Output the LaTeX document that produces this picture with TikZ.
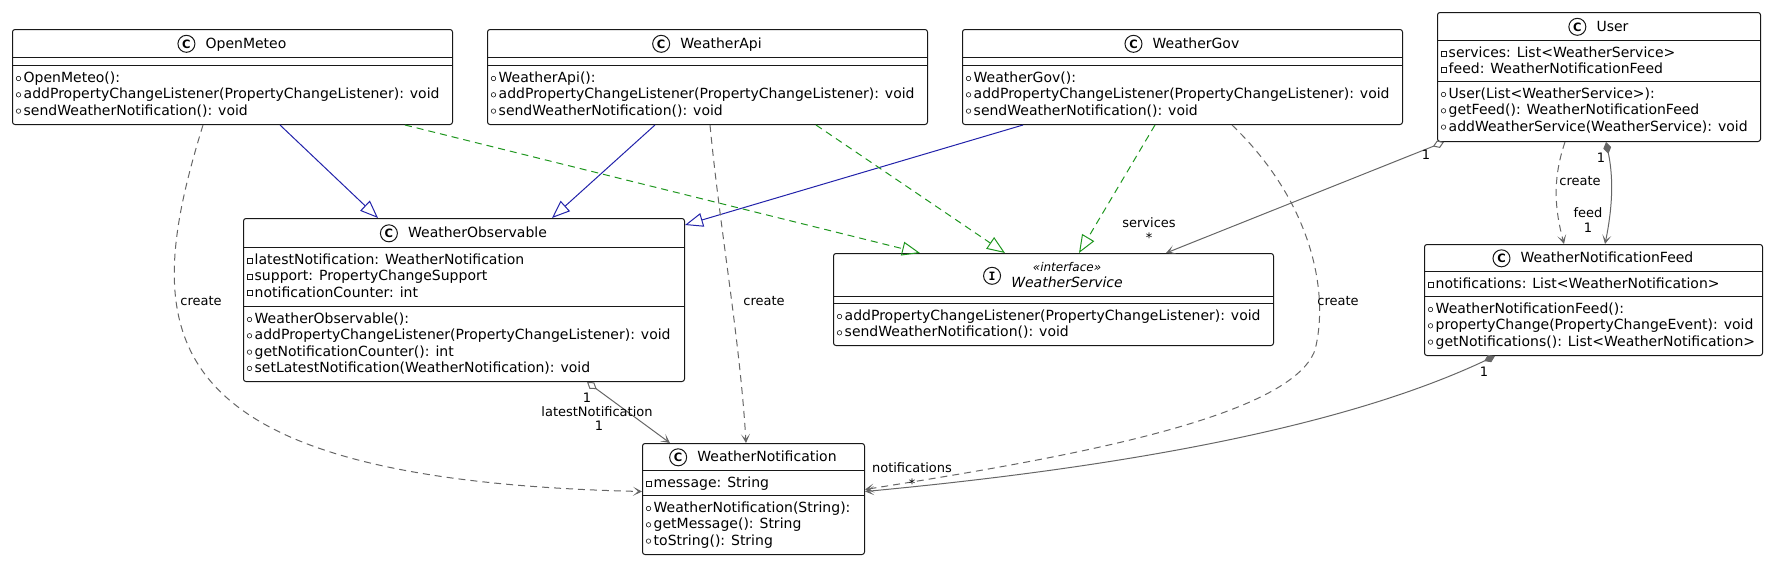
\documentclass[tikz,border=0pt]{standalone}
\usepackage{fontspec}
\setmainfont{DejaVu Sans}
\setmonofont{DejaVu Sans Mono}
\usetikzlibrary{arrows.meta,positioning}
\definecolor{umlblue}{RGB}{34,34,170}
\definecolor{umlgreen}{RGB}{30,150,30}
\definecolor{umlgray}{RGB}{102,102,102}
\definecolor{umlline}{RGB}{24,24,24}
\newcommand{\umlmemf}{\fontsize{14pt}{16pt}\selectfont}
\newcommand{\umllblf}{\fontsize{13pt}{15pt}\selectfont}
\newcommand{\umlstf}{\fontsize{12pt}{14pt}\selectfont\itshape}
\newcommand{\mrow}[5]{%
  \node[#1] (#2k) at (#3+6.5,#4-4) {};
  \node[mem] (#2) at (#3+11.5,#4) {#5};
}
\newcommand{\hdr}[5]{%
  \node[cname] (#1) at (#2,#3) {#4};
  \node[cicon, anchor=base east] (#1i) at ([xshift=-10pt]#1.base west) {#5};
}
\tikzset{
  cls/.style={draw=umlline, line width=1pt, rounded corners=2.5pt, fill=white, anchor=north west, inner sep=0pt},
  sepl/.style={draw=umlline, line width=1pt},
  mem/.style={font=\umlmemf, anchor=base west, inner sep=0pt},
  cname/.style={font=\umlmemf, anchor=base, inner sep=0pt},
  cicon/.style={circle, draw=umlline, line width=1pt, minimum size=17pt, inner sep=0pt, font=\fontsize{11.5pt}{12pt}\selectfont\bfseries},
  pubm/.style={circle, draw=umlline, line width=0.6pt, minimum size=4.5pt, inner sep=0pt},
  privm/.style={rectangle, draw=umlline, line width=0.6pt, minimum size=5pt, inner sep=0pt},
  lbl/.style={font=\umllblf, anchor=base, inner sep=0pt},
  vtip/.tip={Stealth[length=9pt,width=9pt,inset=5pt]},
  ext/.style={draw=umlblue, line width=1pt, -{Triangle[open,length=18pt,width=14pt]}},
  real/.style={draw=umlgreen, line width=1pt, dash pattern=on 7pt off 5pt, -{Triangle[open,length=18pt,width=14pt]}},
  dep/.style={draw=umlgray, line width=1pt, dash pattern=on 7pt off 5pt, -vtip},
  agg/.style={draw=umlgray, line width=1pt, {Diamond[open,length=12pt,width=8pt]}-vtip},
  comp/.style={draw=umlgray, line width=1pt, {Diamond[length=12pt,width=8pt,fill=umlgray]}-vtip},
}
\begin{document}
\begin{tikzpicture}[x=1pt,y=-1pt]
\useasboundingbox (0,0) rectangle (1772,560);

% ---------- OpenMeteo ----------
\node[cls, minimum width=440pt, minimum height=95pt] (om) at (12,29) {};
\draw[sepl] (om.west |- 0,57) -- (om.east |- 0,57);
\draw[sepl] (om.west |- 0,65) -- (om.east |- 0,65);
\hdr{omn}{246}{48}{OpenMeteo}{C}
\mrow{pubm}{om1}{12}{82.5}{OpenMeteo():}
\mrow{pubm}{om2}{12}{98.8}{addPropertyChangeListener(PropertyChangeListener): void}
\mrow{pubm}{om3}{12}{115.1}{sendWeatherNotification(): void}

% ---------- WeatherApi ----------
\node[cls, minimum width=440pt, minimum height=95pt] (wa) at (487,29) {};
\draw[sepl] (wa.west |- 0,57) -- (wa.east |- 0,57);
\draw[sepl] (wa.west |- 0,65) -- (wa.east |- 0,65);
\hdr{wan}{721}{48}{WeatherApi}{C}
\mrow{pubm}{wa1}{487}{82.5}{WeatherApi():}
\mrow{pubm}{wa2}{487}{98.8}{addPropertyChangeListener(PropertyChangeListener): void}
\mrow{pubm}{wa3}{487}{115.1}{sendWeatherNotification(): void}

% ---------- WeatherGov ----------
\node[cls, minimum width=440pt, minimum height=95pt] (wg) at (962,29) {};
\draw[sepl] (wg.west |- 0,57) -- (wg.east |- 0,57);
\draw[sepl] (wg.west |- 0,65) -- (wg.east |- 0,65);
\hdr{wgn}{1196}{48}{WeatherGov}{C}
\mrow{pubm}{wg1}{962}{82.5}{WeatherGov():}
\mrow{pubm}{wg2}{962}{98.8}{addPropertyChangeListener(PropertyChangeListener): void}
\mrow{pubm}{wg3}{962}{115.1}{sendWeatherNotification(): void}

% ---------- User ----------
\node[cls, minimum width=323pt, minimum height=129pt] (us) at (1437,12) {};
\draw[sepl] (us.west |- 0,40) -- (us.east |- 0,40);
\draw[sepl] (us.west |- 0,81) -- (us.east |- 0,81);
\hdr{usn}{1612.5}{31}{User}{C}
\mrow{privm}{usf1}{1437}{57.5}{services: List<WeatherService>}
\mrow{privm}{usf2}{1437}{73.8}{feed: WeatherNotificationFeed}
\mrow{pubm}{us1}{1437}{98.5}{User(List<WeatherService>):}
\mrow{pubm}{us2}{1437}{114.8}{getFeed(): WeatherNotificationFeed}
\mrow{pubm}{us3}{1437}{131.1}{addWeatherService(WeatherService): void}

% ---------- WeatherObservable ----------
\node[cls, minimum width=441pt, minimum height=163pt] (wo) at (243,218) {};
\draw[sepl] (wo.west |- 0,247) -- (wo.east |- 0,247);
\draw[sepl] (wo.west |- 0,306) -- (wo.east |- 0,306);
\hdr{won}{477.5}{237.5}{WeatherObservable}{C}
\mrow{privm}{wof1}{243}{264.5}{latestNotification: WeatherNotification}
\mrow{privm}{wof2}{243}{280.8}{support: PropertyChangeSupport}
\mrow{privm}{wof3}{243}{297.1}{notificationCounter: int}
\mrow{pubm}{wo1}{243}{323.5}{WeatherObservable():}
\mrow{pubm}{wo2}{243}{339.8}{addPropertyChangeListener(PropertyChangeListener): void}
\mrow{pubm}{wo3}{243}{356.1}{getNotificationCounter(): int}
\mrow{pubm}{wo4}{243}{372.4}{setLatestNotification(WeatherNotification): void}

% ---------- WeatherService ----------
\node[cls, minimum width=440pt, minimum height=92pt] (ws) at (833,253) {};
\draw[sepl] (ws.west |- 0,296) -- (ws.east |- 0,296);
\draw[sepl] (ws.west |- 0,303) -- (ws.east |- 0,303);
\node[cname, font=\umlstf] (wsst) at (1067,271.3) {«interface»};
\node[cname, font=\umlmemf\itshape] (wsn) at (1067,287) {WeatherService};
\node[cicon, anchor=base east, yshift=7pt, font=\fontsize{11.5pt}{12pt}\selectfont\ttfamily\bfseries] (wsni) at ([xshift=-10pt]wsn.base west) {I};
\mrow{pubm}{ws1}{833}{320.5}{addPropertyChangeListener(PropertyChangeListener): void}
\mrow{pubm}{ws2}{833}{336.8}{sendWeatherNotification(): void}

% ---------- WeatherNotificationFeed ----------
\node[cls, minimum width=338pt, minimum height=111pt] (wf) at (1424,244) {};
\draw[sepl] (wf.west |- 0,271) -- (wf.east |- 0,271);
\draw[sepl] (wf.west |- 0,296) -- (wf.east |- 0,296);
\hdr{wfn}{1607}{262.5}{WeatherNotificationFeed}{C}
\mrow{privm}{wff1}{1424}{288.5}{notifications: List<WeatherNotification>}
\mrow{pubm}{wf1}{1424}{313.5}{WeatherNotificationFeed():}
\mrow{pubm}{wf2}{1424}{329.8}{propertyChange(PropertyChangeEvent): void}
\mrow{pubm}{wf3}{1424}{346.1}{getNotifications(): List<WeatherNotification>}

% ---------- WeatherNotification ----------
\node[cls, minimum width=222pt, minimum height=111pt] (wn) at (642,443) {};
\draw[sepl] (wn.west |- 0,470) -- (wn.east |- 0,470);
\draw[sepl] (wn.west |- 0,495) -- (wn.east |- 0,495);
\hdr{wnn}{767}{461.5}{WeatherNotification}{C}
\mrow{privm}{wnf1}{642}{487.5}{message: String}
\mrow{pubm}{wn1}{642}{512.5}{WeatherNotification(String):}
\mrow{pubm}{wn2}{642}{528.8}{getMessage(): String}
\mrow{pubm}{wn3}{642}{545.1}{toString(): String}

% ---------- connectors ----------
\draw[ext] ([xshift=268pt]om.south west) -- ([xshift=135pt]wo.north west);
\draw[ext] ([xshift=168pt]wa.south west) -- ([xshift=309pt]wo.north west);
\draw[ext] ([xshift=61pt]wg.south west) -- ([yshift=-7pt]wo.north east);
\draw[real] ([xshift=393pt]om.south west) -- ([xshift=87pt]ws.north west);
\draw[real] ([xshift=329pt]wa.south west) -- ([xshift=172pt]ws.north west);
\draw[real] ([xshift=193pt]wg.south west) -- ([xshift=246pt]ws.north west);
\draw[dep] ([xshift=191pt]om.south west) .. controls (140,330) and (140,480) .. ([yshift=7.5pt]wn.west);
\draw[dep] ([xshift=223pt]wa.south west) .. controls (720,230) and (740,340) .. ([xshift=104pt]wn.north west);
\draw[dep] ([xshift=270pt]wg.south west) .. controls (1310,200) and (1330,290) .. (1315,350) .. controls (1290,420) and (1050,460) .. ([yshift=9.5pt]wn.east);
\draw[agg] ([xshift=7pt]us.south west) -- ([xshift=-108pt]ws.north east);
\draw[comp] ([xshift=169pt]us.south west) .. controls (1614,180) and (1612,210) .. ([xshift=181pt]wf.north west);
\draw[dep] ([xshift=128pt]us.south west) .. controls (1552,180) and (1555,210) .. ([xshift=140pt]wf.north west);
\draw[agg] ([xshift=344pt]wo.south west) -- ([xshift=28pt]wn.north west);
\draw[comp] ([xshift=71pt]wf.south west) .. controls (1380,410) and (1200,460) .. ([yshift=7.5pt]wn.east);

% ---------- labels ----------
\node[lbl] (lc1) at (201,305.7) {create};
\node[lbl] (lc2) at (764,305.7) {create};
\node[lbl] (lc3) at (1338,305.7) {create};
\node[lbl] (lc4) at (1580,185.7) {create};
\node[lbl] (lsv) at (1149,227.5) {services};
\node[lbl] (lsvs) at (1149,242.5) {*};
\node[lbl] (lsv1) at (1426,159.7) {1};
\node[lbl] (lfd1) at (1601,162.7) {1};
\node[lbl] (lfd) at (1588,217) {feed};
\node[lbl] (lfd2) at (1588,232.5) {1};
\node[lbl] (lln1) at (587,402) {1};
\node[lbl] (lln) at (597,416.5) {latestNotification};
\node[lbl] (lln2) at (599,430.5) {1};
\node[lbl] (lnt1) at (1484,376.7) {1};
\node[lbl] (lnt) at (912,472.7) {notifications};
\node[lbl] (lnts) at (912,488) {*};
\end{tikzpicture}
\end{document}
